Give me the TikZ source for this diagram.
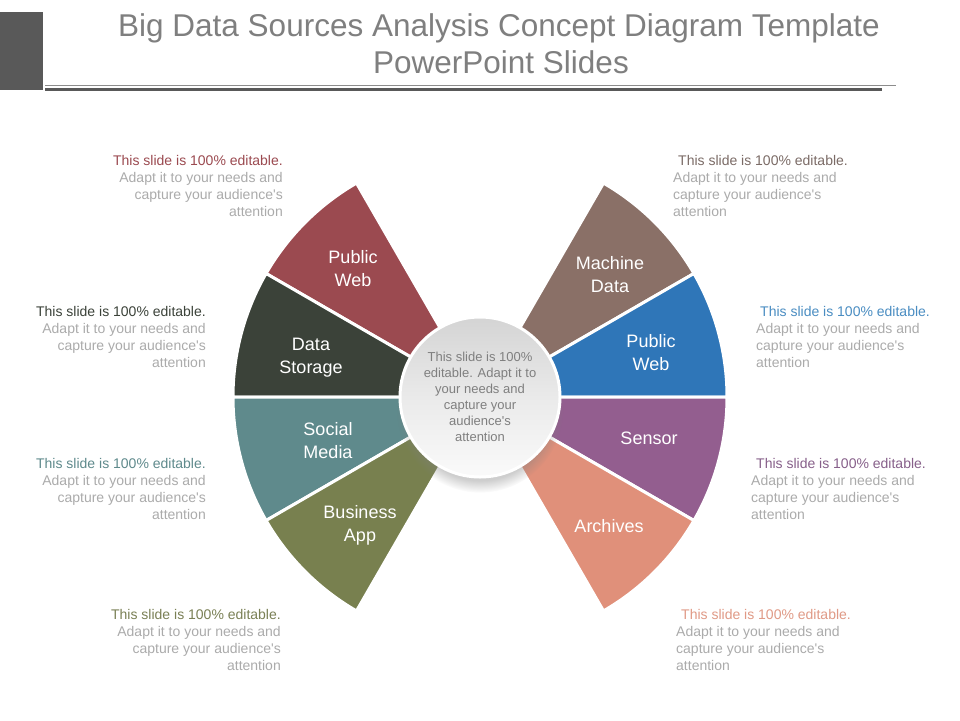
\documentclass[tikz,border=0pt]{standalone}
\usepackage{fontspec}
\setmainfont{Liberation Sans}[Ligatures=TeXOff]
\usetikzlibrary{shadows}
\definecolor{cRed}{HTML}{9B4A50}
\definecolor{cDark}{HTML}{3B4239}
\definecolor{cTeal}{HTML}{5F8A8C}
\definecolor{cOlive}{HTML}{78804F}
\definecolor{cBrown}{HTML}{8A7067}
\definecolor{cBlue}{HTML}{2F76B8}
\definecolor{cPurple}{HTML}{935E8F}
\definecolor{cSalmon}{HTML}{E0907A}
\definecolor{tRed}{HTML}{9B4A50}
\definecolor{tDark}{HTML}{3B4239}
\definecolor{tTeal}{HTML}{5F8A8C}
\definecolor{tOlive}{HTML}{7A8055}
\definecolor{tBrown}{HTML}{7B6B66}
\definecolor{tBlue}{HTML}{4A8DC2}
\definecolor{tPurple}{HTML}{87608A}
\definecolor{tSalmon}{HTML}{E09A86}
\definecolor{titlegray}{HTML}{7F7F7F}
\definecolor{bargray}{HTML}{595959}
\definecolor{linegray}{HTML}{8C8C8C}
\definecolor{softgray}{HTML}{ABABAB}
\definecolor{hubtop}{HTML}{D4D4D4}
\definecolor{hubmid}{HTML}{EAEAEA}
\definecolor{hubbot}{HTML}{FAFAFA}
\newcommand\mysector[3]{\fill[#1, draw=white, line width=3pt] (480,397) -- ++(#2:247) arc[start angle=#2, end angle=#3, radius=247] -- cycle;}
\tikzset{
  titletext/.style={anchor=base, text=titlegray, font=\fontsize{31.5}{37}\selectfont, inner sep=0},
  seglabel/.style={align=center, text=white, font=\fontsize{18}{23}\selectfont, inner sep=0},
  sidel/.style={anchor=east, align=right, text=softgray, font=\fontsize{14}{17}\selectfont, inner sep=0},
  sider/.style={anchor=west, align=left, text=softgray, font=\fontsize{14}{17}\selectfont, inner sep=0},
  hubstyle/.style={circle, minimum size=160pt, inner sep=0, draw=white, line width=3pt,
    top color=hubtop, bottom color=hubbot, middle color=hubmid,
    circular drop shadow={shadow xshift=0pt, shadow yshift=-12pt, shadow scale=1.04, opacity=0.38},
    align=center, text=titlegray, font=\fontsize{13}{16}\selectfont}
}
\begin{document}
\begin{tikzpicture}[x=1pt,y=-1pt]
\useasboundingbox (0,0) rectangle (960,720);
\fill[white] (0,0) rectangle (960,720);
% header
\fill[bargray] (0,12) rectangle (43,90);
\draw[linegray, line width=1pt] (45,85) -- (896,85);
\draw[bargray, line width=2.5pt] (45,89.5) -- (882,89.5);
\node[titletext] (title1) at (499,36) {Big Data Sources Analysis Concept Diagram Template};
\node[titletext] (title2) at (501,73) {PowerPoint Slides};
% sectors
\mysector{cRed}{-120}{-150}
\mysector{cDark}{-150}{-180}
\mysector{cTeal}{-180}{-210}
\mysector{cOlive}{-210}{-240}
\mysector{cBrown}{-30}{-60}
\mysector{cBlue}{0}{-30}
\mysector{cPurple}{30}{0}
\mysector{cSalmon}{60}{30}
% hub
\node[hubstyle] (hub) at (480,397) {This slide is 100\%\\editable. Adapt it to\\your needs and\\capture your\\audience's\\attention};
% segment labels
\node[seglabel] (l1) at (353,269) {Public\\Web};
\node[seglabel] (l2) at (311,358) {Data\\Storage};
\node[seglabel] (l3) at (328,441) {Social\\Media};
\node[seglabel] (l4) at (360,525) {Business\\App};
\node[seglabel] (r1) at (610,275) {Machine\\Data};
\node[seglabel] (r2) at (651,353) {Public\\Web};
\node[seglabel] (r3) at (649,438) {Sensor};
\node[seglabel] (r4) at (609,526) {Archives};
% side texts
\node[sidel] (t1) at (283,186) {\textcolor{tRed}{This slide is 100\% editable.}\\Adapt it to your needs and\\capture your audience's\\attention};
\node[sidel] (t2) at (206,337) {\textcolor{tDark}{This slide is 100\% editable.}\\Adapt it to your needs and\\capture your audience's\\attention};
\node[sidel] (t3) at (206,489) {\textcolor{tTeal}{This slide is 100\% editable.}\\Adapt it to your needs and\\capture your audience's\\attention};
\node[sidel] (t4) at (281,640) {\textcolor{tOlive}{This slide is 100\% editable.}\\Adapt it to your needs and\\capture your audience's\\attention};
\node[sider] (s1) at (673,186) {\hspace*{5pt}\textcolor{tBrown}{This slide is 100\% editable.}\\Adapt it to your needs and\\capture your audience's\\attention};
\node[sider] (s2) at (756,337) {\hspace*{4pt}\textcolor{tBlue}{This slide is 100\% editable.}\\Adapt it to your needs and\\capture your audience's\\attention};
\node[sider] (s3) at (751,489) {\hspace*{5pt}\textcolor{tPurple}{This slide is 100\% editable.}\\Adapt it to your needs and\\capture your audience's\\attention};
\node[sider] (s4) at (676,640) {\hspace*{5pt}\textcolor{tSalmon}{This slide is 100\% editable.}\\Adapt it to your needs and\\capture your audience's\\attention};
\end{tikzpicture}
\end{document}
